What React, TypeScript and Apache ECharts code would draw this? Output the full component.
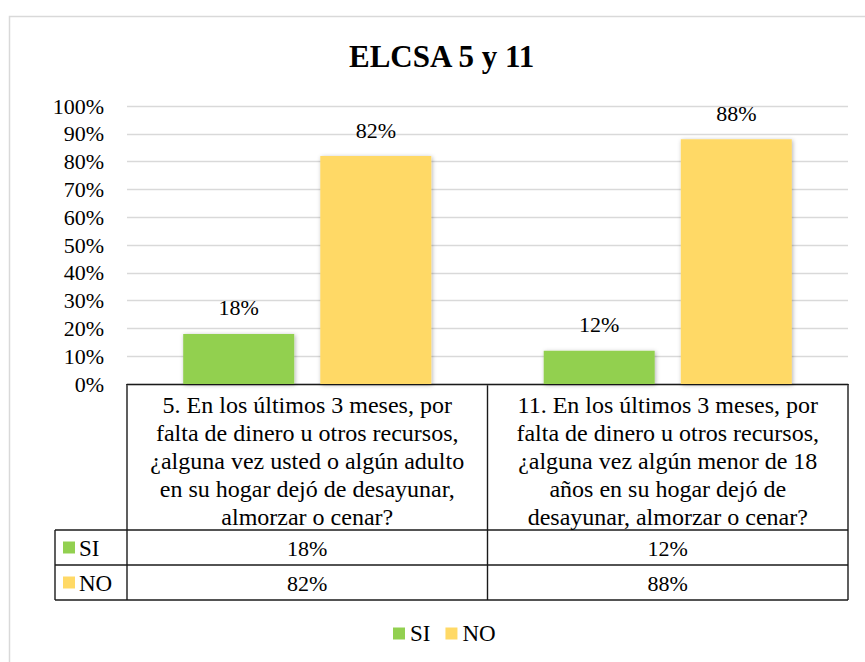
import React, { useEffect, useRef } from "react";
import * as echarts from "echarts";

const categories = [
  "5. En los últimos 3 meses, por\nfalta de dinero u otros recursos,\n¿alguna vez usted o algún adulto\nen su hogar dejó de desayunar,\nalmorzar o cenar?",
  "11. En los últimos 3 meses, por\nfalta de dinero u otros recursos,\n¿alguna vez algún menor de 18\naños en su hogar dejó de\ndesayunar, almorzar o cenar?",
];
const seriesNames = ["SI", "NO"];
const siValues = [18, 12];
const noValues = [82, 88];
const yTicks = [0, 10, 20, 30, 40, 50, 60, 70, 80, 90, 100];
const titleText = "ELCSA 5 y 11";

const COLORS = ["#92D050", "#FFD966"];
const FONT = "Liberation Serif";

export default function App() {
  const ref = useRef<HTMLDivElement>(null);
  useEffect(() => {
    if (!ref.current) return;
    const chart = echarts.init(ref.current, undefined, { renderer: "svg" });
    const W = 865;
    const H = 662;
    const gl = 127, gr = 848, gt = 106, gb = 384;
    const mid = (gl + gr) / 2;
    const tLeft = 55;
    const r1 = 530, r2 = 565, r3 = 600;
    const lineStyle = { stroke: "#1a1a1a", lineWidth: 1.4 };
    const values = [siValues, noValues];

    const graphics: any[] = [
      {
        type: "rect",
        shape: { x: 9.5, y: 16.5, width: 900, height: 700 },
        style: { fill: "none", stroke: "#D9D9D9", lineWidth: 1.5 },
        silent: true,
        z: -10,
      },
      { type: "line", shape: { x1: gl, y1: gb, x2: gl, y2: r3 }, style: lineStyle },
      { type: "line", shape: { x1: mid, y1: gb, x2: mid, y2: r3 }, style: lineStyle },
      { type: "line", shape: { x1: gr, y1: gb, x2: gr, y2: r3 }, style: lineStyle },
      { type: "line", shape: { x1: tLeft, y1: r1, x2: tLeft, y2: r3 }, style: lineStyle },
      { type: "line", shape: { x1: tLeft, y1: r1, x2: gr, y2: r1 }, style: lineStyle },
      { type: "line", shape: { x1: tLeft, y1: r2, x2: gr, y2: r2 }, style: lineStyle },
      { type: "line", shape: { x1: tLeft, y1: r3, x2: gr, y2: r3 }, style: lineStyle },
    ];
    const rowTops = [r1, r2];
    seriesNames.forEach((name, si) => {
      const cy = rowTops[si] + (r2 - r1) / 2;
      graphics.push({
        type: "rect",
        shape: { x: 63, y: cy - 6, width: 12, height: 12 },
        style: { fill: COLORS[si] },
      });
      graphics.push({
        type: "text",
        x: 79,
        y: cy + 1,
        style: { text: name, fontFamily: FONT, fontSize: 23, fill: "#000", verticalAlign: "middle", align: "left" },
      });
      values[si].forEach((v, ci) => {
        const cx = ci === 0 ? (gl + mid) / 2 : (mid + gr) / 2;
        graphics.push({
          type: "text",
          x: cx,
          y: cy + 1,
          style: { text: `${v}%`, fontFamily: FONT, fontSize: 22, fill: "#000", verticalAlign: "middle", align: "center" },
        });
      });
    });

    chart.setOption({
      animation: false,
      textStyle: { fontFamily: FONT },
      title: {
        text: titleText,
        left: 349,
        top: 41,
        padding: 0,
        textStyle: { fontFamily: FONT, fontSize: 31, fontWeight: "bold", color: "#000" },
      },
      legend: {
        data: seriesNames,
        top: 622,
        left: 393,
        padding: 0,
        icon: "rect",
        itemWidth: 12,
        itemHeight: 12,
        itemGap: 15,
        textStyle: { fontFamily: FONT, fontSize: 23, color: "#000" },
      },
      grid: { left: gl, right: W - gr, top: gt, bottom: H - gb, containLabel: false },
      xAxis: {
        type: "category",
        data: categories,
        axisLine: { lineStyle: { color: "#1a1a1a", width: 1.4 } },
        axisTick: { show: false },
        axisLabel: {
          interval: 0,
          fontFamily: FONT,
          fontSize: 24,
          lineHeight: 28,
          color: "#000",
          margin: 7,
        },
      },
      yAxis: {
        type: "value",
        min: 0,
        max: 100,
        interval: 10,
        axisLabel: {
          formatter: (v: number) => (yTicks.includes(v) ? `${v}%` : ""),
          fontFamily: FONT,
          fontSize: 22,
          color: "#000",
          margin: 23,
        },
        axisLine: { show: false },
        axisTick: { show: false },
        splitLine: { lineStyle: { color: "#D9D9D9", width: 1.3 } },
      },
      series: seriesNames.map((name, si) => ({
        name,
        type: "bar",
        data: values[si],
        barWidth: 111,
        barGap: "23.5%",
        itemStyle: {
          color: COLORS[si],
          shadowColor: "rgba(0,0,0,0.3)",
          shadowBlur: 4,
          shadowOffsetX: 1,
          shadowOffsetY: 1,
        },
        label: {
          show: true,
          position: "top",
          distance: 15,
          formatter: (p: any) => `${p.value}%`,
          fontFamily: FONT,
          fontSize: 22,
          color: "#000",
        },
      })),
      graphic: graphics,
    });
    return () => chart.dispose();
  }, []);
  return (
    <div
      ref={ref}
      style={{ position: "fixed", left: 0, top: 0, width: 865, height: 662, background: "#fff" }}
    />
  );
}
